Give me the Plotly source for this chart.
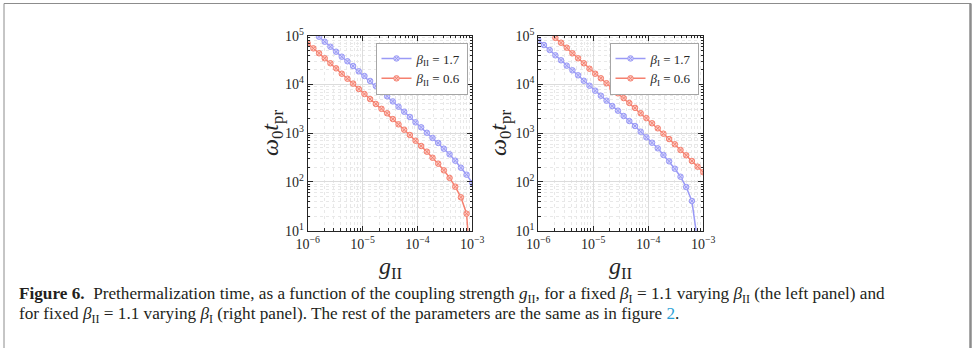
import plotly.graph_objects as go

W, H = 974, 348

# ---- data ----
g_values = [1.000e-6, 1.269e-6, 1.610e-6, 2.043e-6, 2.593e-6, 3.290e-6, 4.174e-6, 5.297e-6,
            6.721e-6, 8.528e-6, 1.0822e-5, 1.3731e-5, 1.7424e-5, 2.2109e-5, 2.8054e-5,
            3.5598e-5, 4.5170e-5, 5.7316e-5, 7.2728e-5, 9.2285e-5, 1.1710e-4, 1.4859e-4,
            1.8854e-4, 2.3924e-4, 3.0357e-4, 3.8519e-4, 4.8877e-4, 6.2020e-4, 7.8697e-4, 1.000e-3]

# left panel: fixed beta_I = 1.1, varying beta_II
left_b17 = [None, None, 95300, 75300, 59400, 47000, 37100, 29900, 23900, 18600, 14900, 11800,
            9290, 7240, 5720, 4490, 3500, 2760, 2150, 1670, 1320, 1020, 798, 630, 481, 369,
            273, 196, 141, 95]
left_b06 = [69800, 55000, 43600, 34400, 27200, 21400, 16600, 13100, 10400, 8070, 6370, 5010,
            3980, 3160, 2560, 1950, 1520, 1180, 918, 701, 546, 418, 314, 237, 173, 121, 80,
            48.4, 22.3, 0.5]

# right panel: fixed beta_II = 1.1, varying beta_I
right_b17 = [81700, 64400, 50900, 39600, 31300, 24300, 19500, 15400, 11900, 9420, 7450, 5870,
             4650, 3610, 2900, 2250, 1778, 1406, 1074, 824, 638, 490, 357, 265, 187, 128,
             78.7, 40.6, 6.0, None]
right_b06 = [None, None, None, 90200, 71800, 56800, 43600, 34400, 27200, 21000, 16600, 13400,
             10600, 8340, 6580, 5250, 4170, 3310, 2570, 2040, 1600, 1260, 977, 759, 592, 452,
             352, 269, 206, 158]

x_major = [1e-6, 1e-5, 1e-4, 1e-3]
x_major_text = ["10<sup>−6</sup>", "10<sup>−5</sup>", "10<sup>−4</sup>", "10<sup>−3</sup>"]
y_major = [1e1, 1e2, 1e3, 1e4, 1e5]
y_major_text = ["10<sup>1</sup>", "10<sup>2</sup>", "10<sup>3</sup>", "10<sup>4</sup>", "10<sup>5</sup>"]
x_minor = [m * 10.0 ** e for e in (-6, -5, -4) for m in range(2, 10)]
y_minor = [m * 10.0 ** e for e in (1, 2, 3, 4) for m in range(2, 10)]

names_left = ["<i>β</i><sub>II</sub> = 1.7", "<i>β</i><sub>II</sub> = 0.6"]
names_right = ["<i>β</i><sub>I</sub> = 1.7", "<i>β</i><sub>I</sub> = 0.6"]

BLUE, BLUE_FILL = "#9a9af6", "#d4d4fb"
RED, RED_FILL = "#f5806f", "#fbcbc3"
SERIF = "Liberation Serif"
INK = "#262626"

def px_x(p):
    return p / W

def px_y(p):
    return 1 - p / H

fig = go.Figure()

def add(ys, name, color, fill, xa, ya, legend):
    fig.add_trace(go.Scatter(
        x=g_values, y=ys, name=name, mode="lines+markers",
        xaxis=xa, yaxis=ya, legend=legend,
        line=dict(color=color, width=1.5),
        marker=dict(symbol="circle-x", size=5.5, color=fill,
                    line=dict(color=color, width=1)),
        connectgaps=False,
    ))

add(left_b17, names_left[0], BLUE, BLUE_FILL, "x", "y", "legend")
add(left_b06, names_left[1], RED, RED_FILL, "x", "y", "legend")
add(right_b17, names_right[0], BLUE, BLUE_FILL, "x2", "y2", "legend2")
add(right_b06, names_right[1], RED, RED_FILL, "x2", "y2", "legend2")

def xaxis_cfg(domain, anchor):
    return dict(type="log", range=[-6, -3], domain=domain, anchor=anchor,
                tickmode="array", tickvals=x_major, ticktext=x_major_text,
                ticks="inside", ticklen=5, tickcolor=INK, tickwidth=1,
                showline=True, linecolor=INK, linewidth=1, mirror="ticks",
                showgrid=True, gridcolor="#dcdcdc", gridwidth=1, zeroline=False,
                automargin=False,
                minor=dict(tickmode="array", tickvals=x_minor, ticks="inside", ticklen=2.5,
                           tickcolor=INK, showgrid=True, gridcolor="#e8e8e8",
                           griddash="dot", gridwidth=1),
                tickfont=dict(family=SERIF, size=14, color=INK))

def yaxis_cfg(domain, anchor):
    return dict(type="log", range=[1, 5], domain=domain, anchor=anchor,
                tickmode="array", tickvals=y_major, ticktext=y_major_text,
                ticks="inside", ticklen=5, tickcolor=INK, tickwidth=1,
                showline=True, linecolor=INK, linewidth=1, mirror="ticks",
                showgrid=True, gridcolor="#dcdcdc", gridwidth=1, zeroline=False,
                automargin=False,
                minor=dict(tickmode="array", tickvals=y_minor, ticks="inside", ticklen=2.5,
                           tickcolor=INK, showgrid=True, gridcolor="#e8e8e8",
                           griddash="dot", gridwidth=1),
                tickfont=dict(family=SERIF, size=14, color=INK))

ydom = [px_y(230.7), px_y(35.7)]
legend_style = dict(bordercolor="#a6a6a6", borderwidth=1, bgcolor="white",
                    font=dict(family=SERIF, size=13, color=INK),
                    itemwidth=30, tracegroupgap=0, yanchor="top", xanchor="right")

fig.update_layout(
    width=W, height=H, margin=dict(l=0, r=0, t=0, b=0, pad=0, autoexpand=False),
    paper_bgcolor="white", plot_bgcolor="white",
    xaxis=xaxis_cfg([px_x(307.7), px_x(472.3)], "y"),
    yaxis=yaxis_cfg(ydom, "x"),
    xaxis2=xaxis_cfg([px_x(538.3), px_x(703.3)], "y2"),
    yaxis2=yaxis_cfg(ydom, "x2"),
    legend=dict(x=px_x(467.5), y=px_y(42.5), **legend_style),
    legend2=dict(x=px_x(698.5), y=px_y(42.5), **legend_style),
    showlegend=True,
)

ann = []
for xc in (272, 500):
    ann.append(dict(text="<i>ω</i><sub>0</sub><i>t</i><sub>pr</sub>", x=px_x(xc), y=px_y(133),
                    xref="paper", yref="paper", showarrow=False, textangle=-90,
                    xanchor="center", yanchor="middle",
                    font=dict(family=SERIF, size=24, color=INK)))
for xc in (390, 620.8):
    ann.append(dict(text="<i>g</i><sub>II</sub>", x=px_x(xc), y=px_y(268),
                    xref="paper", yref="paper", showarrow=False,
                    xanchor="center", yanchor="middle",
                    font=dict(family=SERIF, size=24, color=INK)))

cap1 = ("<b>Figure 6.</b>  Prethermalization time, as a function of the coupling strength "
        "<i>g</i><sub>II</sub>, for a fixed <i>β</i><sub>I</sub> = 1.1 varying "
        "<i>β</i><sub>II</sub> (the left panel) and")
cap2 = ("for fixed <i>β</i><sub>II</sub> = 1.1 varying <i>β</i><sub>I</sub> (right panel). "
        "The rest of the parameters are the same as in figure "
        "<span style='color:#2a9fd6'>2</span>.")
for txt, yc in ((cap1, 295), (cap2, 315)):
    ann.append(dict(text=txt, x=px_x(17), y=px_y(yc), xref="paper", yref="paper",
                    xanchor="left", yanchor="middle", showarrow=False, align="left",
                    font=dict(family=SERIF, size=17.2, color="#231f20")))
fig.update_layout(annotations=ann)

frame = "#8c8c8c"
fig.update_layout(shapes=[
    dict(type="line", xref="paper", yref="paper", x0=px_x(4), x1=px_x(971), y0=px_y(3.5), y1=px_y(3.5),
         line=dict(color=frame, width=1)),
    dict(type="line", xref="paper", yref="paper", x0=px_x(4), x1=px_x(4), y0=px_y(3.5), y1=0,
         line=dict(color=frame, width=1)),
    dict(type="line", xref="paper", yref="paper", x0=px_x(970.5), x1=px_x(970.5), y0=px_y(3.5), y1=0,
         line=dict(color=frame, width=2.5)),
])

fig.write_html("out.html", config={"displayModeBar": False},
               post_script="document.body.style.margin='0';")
